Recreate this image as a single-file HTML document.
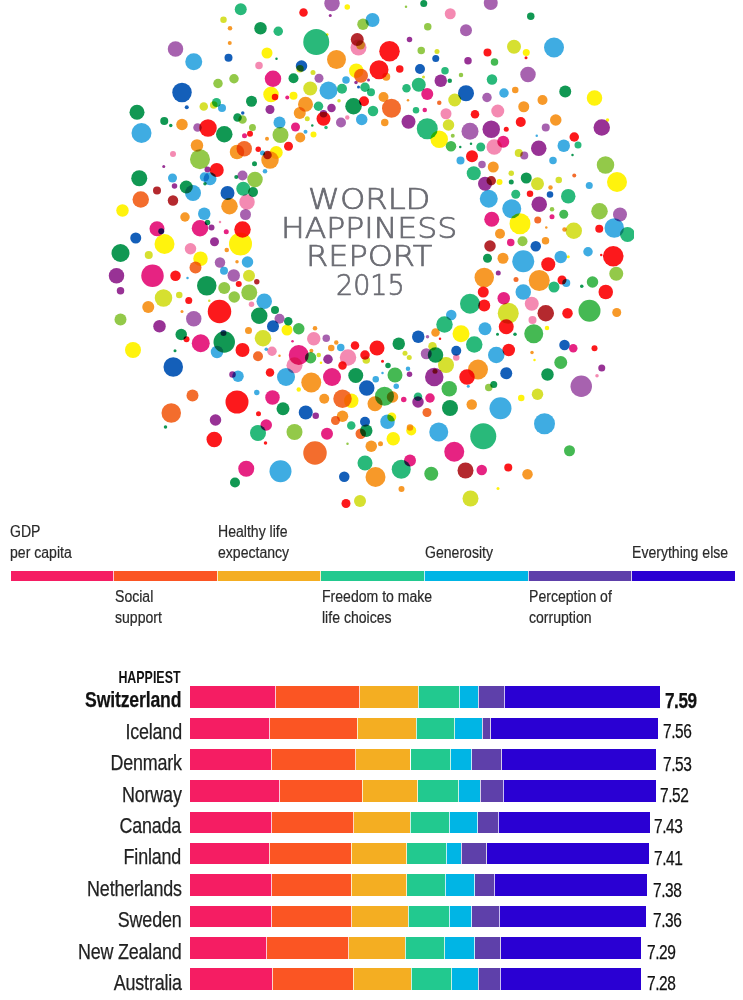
<!DOCTYPE html>
<html><head><meta charset="utf-8"><style>
html,body{margin:0;padding:0;background:#fff;}
body{width:743px;height:1000px;position:relative;overflow:hidden;font-family:"Liberation Sans",Arial,sans-serif;}
.sg{position:absolute;}
.sp{position:absolute;width:1px;background:rgba(255,255,255,0.75);}
.cn{-webkit-text-stroke:0.25px #222;position:absolute;right:561.5px;height:0;line-height:0;font-size:21.5px;color:#222;white-space:nowrap;transform-origin:100% 0;transform:scaleX(0.832);letter-spacing:-0.2px;}
.cn span{}
.cn.b{font-weight:bold;color:#111;transform:scaleX(0.82);}
.vl{-webkit-text-stroke:0.25px #111;position:absolute;height:0;line-height:0;font-size:20.5px;color:#111;white-space:nowrap;transform-origin:0 0;transform:scaleX(0.755);letter-spacing:-0.6px;}
.vl.b{font-weight:bold;font-size:21.5px;transform:scaleX(0.8);margin-left:-0.5px;}
.lg{-webkit-text-stroke:0.2px #2a2a2a;position:absolute;height:0;line-height:0;font-size:15.8px;color:#2a2a2a;white-space:nowrap;transform-origin:0 0;transform:scaleX(0.89);margin-left:-0.8px;}
.hp{position:absolute;right:562.5px;top:677.3px;height:0;line-height:0;font-size:16.5px;font-weight:bold;color:#111;transform-origin:100% 0;transform:scaleX(0.753);}
.title{position:absolute;font-family:"DejaVu Sans",sans-serif;font-weight:200;color:#6b6c73;font-size:27.5px;letter-spacing:0px;height:0;line-height:0;-webkit-text-stroke:0.7px #6b6c73;white-space:nowrap;transform-origin:0 0;}
svg.dots{position:absolute;left:0;top:0;} svg.dots circle{mix-blend-mode:multiply;}
</style></head><body>
<svg class="dots" width="743" height="520" viewBox="0 0 743 520">
<defs><clipPath id="c"><rect x="0" y="0" width="634" height="520"/></clipPath></defs>
<g clip-path="url(#c)" fill-opacity="0.95" style="isolation:isolate">
<circle cx="240.75" cy="9.25" r="6" fill="#1db573"/>
<circle cx="223.5" cy="19.75" r="3.25" fill="#d4de25"/>
<circle cx="230" cy="28.25" r="2.25" fill="#f7931e"/>
<circle cx="260.5" cy="28.25" r="6.25" fill="#04924a"/>
<circle cx="278.25" cy="31.25" r="4.75" fill="#1db573"/>
<circle cx="229.75" cy="43" r="2" fill="#f7931e"/>
<circle cx="175.5" cy="49" r="7.75" fill="#a25aab"/>
<circle cx="267" cy="53" r="5.5" fill="#fff200"/>
<circle cx="276.5" cy="58.75" r="1.25" fill="#04924a"/>
<circle cx="228.5" cy="57.75" r="4" fill="#0756b5"/>
<circle cx="193.75" cy="61.75" r="8.5" fill="#35a8e0"/>
<circle cx="259" cy="65.5" r="3.75" fill="#f384ae"/>
<circle cx="273" cy="78.75" r="8.25" fill="#e5177b"/>
<circle cx="234" cy="78.75" r="4.75" fill="#8dc63f"/>
<circle cx="218" cy="83.5" r="4.75" fill="#8dc63f"/>
<circle cx="182" cy="92.5" r="9.75" fill="#0756b5"/>
<circle cx="271" cy="94.5" r="7.75" fill="#fff200"/>
<circle cx="275" cy="97" r="3.25" fill="#fc0d10"/>
<circle cx="251.5" cy="101.25" r="5.5" fill="#04924a"/>
<circle cx="203.75" cy="106.5" r="4.25" fill="#d4de25"/>
<circle cx="213.75" cy="105" r="3.75" fill="#d4de25"/>
<circle cx="216.5" cy="102.5" r="4.5" fill="#1db573"/>
<circle cx="222" cy="108" r="4" fill="#35a8e0"/>
<circle cx="186.75" cy="107.25" r="2" fill="#0756b5"/>
<circle cx="270" cy="109.5" r="4.5" fill="#92278f"/>
<circle cx="137" cy="112.25" r="7.5" fill="#04924a"/>
<circle cx="242.75" cy="113" r="1.75" fill="#0756b5"/>
<circle cx="237.5" cy="117.5" r="4.25" fill="#04924a"/>
<circle cx="242.5" cy="119.5" r="4.25" fill="#8dc63f"/>
<circle cx="164.25" cy="121" r="4" fill="#04924a"/>
<circle cx="279.5" cy="122.5" r="6" fill="#35a8e0"/>
<circle cx="332" cy="3.5" r="7.75" fill="#a25aab"/>
<circle cx="347.25" cy="7" r="2.75" fill="#fff200"/>
<circle cx="303.5" cy="12.5" r="4.25" fill="#fc0d10"/>
<circle cx="330.25" cy="15.5" r="1.5" fill="#92278f"/>
<circle cx="406" cy="6.75" r="1.25" fill="#8dc63f"/>
<circle cx="423.75" cy="3.5" r="3.5" fill="#04924a"/>
<circle cx="450.25" cy="13.75" r="5.5" fill="#f384ae"/>
<circle cx="372.5" cy="20" r="7" fill="#35a8e0"/>
<circle cx="363" cy="24.25" r="5.75" fill="#8dc63f"/>
<circle cx="427.75" cy="26.75" r="3.75" fill="#8dc63f"/>
<circle cx="466" cy="30.25" r="6" fill="#a25aab"/>
<circle cx="316.25" cy="42" r="13" fill="#1db573"/>
<circle cx="327.25" cy="34.5" r="1.25" fill="#fff200"/>
<circle cx="358.5" cy="47.5" r="8" fill="#f384ae"/>
<circle cx="357.25" cy="39.5" r="6.5" fill="#b01e23"/>
<circle cx="360.5" cy="45" r="4.5" fill="#d4de25"/>
<circle cx="409.5" cy="39.5" r="2.75" fill="#92278f"/>
<circle cx="389.5" cy="51.25" r="10.25" fill="#fc0d10"/>
<circle cx="421.25" cy="50.5" r="3.75" fill="#8dc63f"/>
<circle cx="437" cy="51.5" r="2.5" fill="#d4de25"/>
<circle cx="435.75" cy="58.5" r="3.5" fill="#0756b5"/>
<circle cx="468" cy="60.75" r="3.75" fill="#92278f"/>
<circle cx="336.5" cy="59.5" r="9.5" fill="#f7931e"/>
<circle cx="301.5" cy="66" r="5.75" fill="#0756b5"/>
<circle cx="300" cy="68.75" r="3.75" fill="#d4de25"/>
<circle cx="379" cy="69.75" r="9.5" fill="#fc0d10"/>
<circle cx="399.75" cy="69" r="3.75" fill="#fc0d10"/>
<circle cx="420" cy="69" r="5" fill="#0756b5"/>
<circle cx="356.25" cy="70.75" r="7.25" fill="#fff200"/>
<circle cx="361" cy="75.75" r="7" fill="#f26522"/>
<circle cx="386.25" cy="76.75" r="4" fill="#f7931e"/>
<circle cx="445" cy="70.75" r="3.75" fill="#1db573"/>
<circle cx="461" cy="75" r="2.25" fill="#8dc63f"/>
<circle cx="293.5" cy="78.25" r="5" fill="#04924a"/>
<circle cx="313" cy="72.5" r="2.5" fill="#d4de25"/>
<circle cx="319" cy="78.25" r="4.5" fill="#a25aab"/>
<circle cx="346" cy="80" r="3.75" fill="#35a8e0"/>
<circle cx="368.5" cy="80" r="1.5" fill="#92278f"/>
<circle cx="358.5" cy="87" r="1.5" fill="#0756b5"/>
<circle cx="356" cy="82.5" r="1.75" fill="#92278f"/>
<circle cx="418.75" cy="84.75" r="7" fill="#1db573"/>
<circle cx="440.75" cy="80.75" r="6.25" fill="#92278f"/>
<circle cx="449.75" cy="80.75" r="2.25" fill="#04924a"/>
<circle cx="423.5" cy="77" r="1.5" fill="#d4de25"/>
<circle cx="310.25" cy="88.5" r="7" fill="#d4de25"/>
<circle cx="328.5" cy="90.5" r="9" fill="#35a8e0"/>
<circle cx="342" cy="88.75" r="5" fill="#1db573"/>
<circle cx="365" cy="87.25" r="4.75" fill="#1db573"/>
<circle cx="371" cy="92.25" r="4" fill="#1db573"/>
<circle cx="406.5" cy="88.25" r="4.25" fill="#1db573"/>
<circle cx="427.25" cy="94" r="6" fill="#e5177b"/>
<circle cx="466" cy="93.25" r="8" fill="#0756b5"/>
<circle cx="293.5" cy="95.75" r="4" fill="#fff200"/>
<circle cx="287.25" cy="97.5" r="2" fill="#e5177b"/>
<circle cx="305.5" cy="104.25" r="7.5" fill="#f7931e"/>
<circle cx="318.5" cy="106.25" r="4.75" fill="#1db573"/>
<circle cx="331.5" cy="108" r="4.25" fill="#92278f"/>
<circle cx="339" cy="100.75" r="1.75" fill="#d4de25"/>
<circle cx="353.5" cy="106.25" r="8.25" fill="#04924a"/>
<circle cx="364" cy="101.25" r="5" fill="#fc0d10"/>
<circle cx="373" cy="111" r="5.25" fill="#1db573"/>
<circle cx="383.5" cy="97" r="5" fill="#f7931e"/>
<circle cx="391.5" cy="108.25" r="9.5" fill="#f26522"/>
<circle cx="408" cy="100.25" r="1.25" fill="#f7931e"/>
<circle cx="416" cy="110.25" r="3.25" fill="#1db573"/>
<circle cx="424.75" cy="110" r="2.25" fill="#e5177b"/>
<circle cx="439.25" cy="102.75" r="2.25" fill="#f26522"/>
<circle cx="454.75" cy="100" r="6.5" fill="#d4de25"/>
<circle cx="446" cy="113.75" r="5.5" fill="#f384ae"/>
<circle cx="299.75" cy="113" r="6" fill="#f7931e"/>
<circle cx="307.25" cy="118.75" r="2.5" fill="#d4de25"/>
<circle cx="323.5" cy="113.75" r="3.75" fill="#92278f"/>
<circle cx="323.5" cy="118.75" r="7" fill="#fc0d10"/>
<circle cx="347.25" cy="117.5" r="2.25" fill="#f384ae"/>
<circle cx="361.75" cy="119.5" r="5.75" fill="#35a8e0"/>
<circle cx="341" cy="122.5" r="5" fill="#a25aab"/>
<circle cx="384.75" cy="122.5" r="3.75" fill="#f7931e"/>
<circle cx="408.5" cy="121.75" r="7" fill="#92278f"/>
<circle cx="427.25" cy="128.75" r="10.5" fill="#1db573"/>
<circle cx="448.5" cy="125" r="5.75" fill="#d4de25"/>
<circle cx="490.75" cy="3" r="7" fill="#a25aab"/>
<circle cx="530.75" cy="16.25" r="3.75" fill="#04924a"/>
<circle cx="514" cy="46.75" r="7" fill="#d4de25"/>
<circle cx="526.25" cy="52.5" r="3.5" fill="#fff200"/>
<circle cx="526" cy="57.75" r="1.5" fill="#fc0d10"/>
<circle cx="554" cy="47.5" r="10" fill="#35a8e0"/>
<circle cx="487.5" cy="52.5" r="4" fill="#fc0d10"/>
<circle cx="494.5" cy="62" r="3.75" fill="#3bb54a"/>
<circle cx="528" cy="74.5" r="7.75" fill="#a25aab"/>
<circle cx="492" cy="79.5" r="5.25" fill="#1db573"/>
<circle cx="504" cy="93" r="4.75" fill="#35a8e0"/>
<circle cx="515.25" cy="90" r="3.25" fill="#f7931e"/>
<circle cx="565.25" cy="91.5" r="6" fill="#04924a"/>
<circle cx="594.5" cy="98" r="7.75" fill="#fff200"/>
<circle cx="487" cy="97.5" r="4.75" fill="#a25aab"/>
<circle cx="542.5" cy="100" r="5" fill="#f7931e"/>
<circle cx="523.75" cy="106.75" r="5.5" fill="#f7931e"/>
<circle cx="497.75" cy="111" r="6.5" fill="#f384ae"/>
<circle cx="475" cy="114.25" r="4.25" fill="#fc0d10"/>
<circle cx="520.75" cy="122" r="5" fill="#fc0d10"/>
<circle cx="555.75" cy="120" r="5.75" fill="#f7931e"/>
<circle cx="491.25" cy="129.25" r="8.75" fill="#92278f"/>
<circle cx="601.75" cy="127.5" r="8.25" fill="#92278f"/>
<circle cx="607.5" cy="120" r="1.75" fill="#fff200"/>
<circle cx="141.5" cy="133" r="10" fill="#35a8e0"/>
<circle cx="170.75" cy="125.5" r="1.75" fill="#04924a"/>
<circle cx="182" cy="124.5" r="5.75" fill="#f7931e"/>
<circle cx="197.5" cy="127.5" r="4.25" fill="#a25aab"/>
<circle cx="208" cy="128" r="8.75" fill="#fc0d10"/>
<circle cx="224.25" cy="134.25" r="8.25" fill="#04924a"/>
<circle cx="252.5" cy="127.5" r="3.5" fill="#8dc63f"/>
<circle cx="244.5" cy="135.75" r="2.5" fill="#e5177b"/>
<circle cx="250" cy="133.75" r="3" fill="#fc0d10"/>
<circle cx="280.5" cy="135" r="8" fill="#8dc63f"/>
<circle cx="267" cy="138.75" r="2" fill="#f7931e"/>
<circle cx="197" cy="145.5" r="6.25" fill="#f7931e"/>
<circle cx="173" cy="154" r="3" fill="#f384ae"/>
<circle cx="200" cy="159.25" r="10" fill="#8dc63f"/>
<circle cx="237" cy="152" r="7.25" fill="#f7931e"/>
<circle cx="244.25" cy="148.75" r="7.75" fill="#f26522"/>
<circle cx="258.25" cy="149.25" r="2.75" fill="#fc0d10"/>
<circle cx="276.25" cy="152.5" r="6.5" fill="#fff200"/>
<circle cx="270" cy="160" r="8.75" fill="#f7931e"/>
<circle cx="267.5" cy="155" r="4.25" fill="#b01e23"/>
<circle cx="262.5" cy="153" r="2.5" fill="#35a8e0"/>
<circle cx="288.5" cy="146.25" r="4.5" fill="#fc0d10"/>
<circle cx="163.75" cy="166.5" r="1.5" fill="#92278f"/>
<circle cx="254.5" cy="163.75" r="2.5" fill="#04924a"/>
<circle cx="216.75" cy="170" r="7" fill="#fc0d10"/>
<circle cx="207.5" cy="169.5" r="3" fill="#92278f"/>
<circle cx="265" cy="171.25" r="2.25" fill="#35a8e0"/>
<circle cx="139.25" cy="178.25" r="8" fill="#04924a"/>
<circle cx="172.5" cy="178" r="4.5" fill="#35a8e0"/>
<circle cx="210" cy="178.75" r="6.5" fill="#35a8e0"/>
<circle cx="204.5" cy="177" r="4.75" fill="#35a8e0"/>
<circle cx="242.5" cy="175.5" r="5" fill="#a25aab"/>
<circle cx="236.25" cy="177" r="2" fill="#04924a"/>
<circle cx="255" cy="179.5" r="7.75" fill="#8dc63f"/>
<circle cx="205" cy="183.75" r="1.75" fill="#04924a"/>
<circle cx="157" cy="190.5" r="4" fill="#b01e23"/>
<circle cx="174.5" cy="186" r="2.75" fill="#92278f"/>
<circle cx="186.25" cy="187" r="6.5" fill="#04924a"/>
<circle cx="193" cy="193" r="8" fill="#35a8e0"/>
<circle cx="227.5" cy="193" r="7" fill="#0756b5"/>
<circle cx="243.25" cy="188.75" r="7" fill="#1db573"/>
<circle cx="253" cy="192" r="5" fill="#04924a"/>
<circle cx="140.75" cy="199.5" r="8.25" fill="#f26522"/>
<circle cx="173" cy="200.5" r="5.25" fill="#b01e23"/>
<circle cx="247" cy="202" r="7.75" fill="#f384ae"/>
<circle cx="229.5" cy="206.25" r="8.25" fill="#f7931e"/>
<circle cx="122.5" cy="210.5" r="6.25" fill="#fff200"/>
<circle cx="204.25" cy="213.75" r="6.25" fill="#35a8e0"/>
<circle cx="245.5" cy="214.5" r="5.5" fill="#a25aab"/>
<circle cx="185" cy="217" r="4.75" fill="#f7931e"/>
<circle cx="157" cy="228.75" r="7.5" fill="#e5177b"/>
<circle cx="161.25" cy="231.25" r="3" fill="#1b3f94"/>
<circle cx="200" cy="228.25" r="8.25" fill="#e5177b"/>
<circle cx="207.5" cy="222.5" r="2.75" fill="#04924a"/>
<circle cx="211.5" cy="227.5" r="3" fill="#92278f"/>
<circle cx="220" cy="222" r="1.25" fill="#f384ae"/>
<circle cx="226.25" cy="231.75" r="2.5" fill="#e5177b"/>
<circle cx="242.5" cy="229.5" r="8.25" fill="#fc0d10"/>
<circle cx="135.75" cy="238" r="5.5" fill="#0756b5"/>
<circle cx="164.5" cy="244" r="10" fill="#fff200"/>
<circle cx="240.5" cy="244" r="11.5" fill="#fff200"/>
<circle cx="214.5" cy="241.75" r="4.5" fill="#92278f"/>
<circle cx="295.5" cy="127" r="4.5" fill="#e5177b"/>
<circle cx="300.25" cy="137.5" r="5" fill="#f7931e"/>
<circle cx="305.5" cy="131.75" r="2" fill="#35a8e0"/>
<circle cx="313.5" cy="134.5" r="3" fill="#fff200"/>
<circle cx="312.25" cy="125.5" r="1.25" fill="#04924a"/>
<circle cx="326" cy="127.5" r="1.75" fill="#1db573"/>
<circle cx="439.25" cy="139.25" r="8.75" fill="#fff200"/>
<circle cx="451" cy="146.25" r="5.25" fill="#3bb54a"/>
<circle cx="452.75" cy="135.75" r="2" fill="#8dc63f"/>
<circle cx="470" cy="131.25" r="8.5" fill="#a25aab"/>
<circle cx="460.25" cy="147" r="1.25" fill="#04924a"/>
<circle cx="460.5" cy="160.5" r="4" fill="#35a8e0"/>
<circle cx="472" cy="156.25" r="6" fill="#fc0d10"/>
<circle cx="473.75" cy="173.25" r="7" fill="#1db573"/>
<circle cx="471" cy="143.75" r="1.25" fill="#04924a"/>
<circle cx="506.25" cy="129.25" r="2.5" fill="#fc0d10"/>
<circle cx="545.75" cy="127.5" r="4" fill="#a25aab"/>
<circle cx="503.25" cy="141.75" r="6" fill="#e5177b"/>
<circle cx="494.25" cy="147" r="7.75" fill="#f384ae"/>
<circle cx="480.75" cy="147" r="4.5" fill="#1db573"/>
<circle cx="536.75" cy="135.75" r="1.25" fill="#35a8e0"/>
<circle cx="538.75" cy="148.25" r="7.75" fill="#92278f"/>
<circle cx="563.75" cy="145.75" r="6.25" fill="#35a8e0"/>
<circle cx="574.25" cy="137" r="4.75" fill="#fc0d10"/>
<circle cx="578" cy="145" r="3.5" fill="#1db573"/>
<circle cx="572.5" cy="155" r="1.25" fill="#04924a"/>
<circle cx="518.75" cy="153" r="4" fill="#d4de25"/>
<circle cx="524.25" cy="155.5" r="4" fill="#a25aab"/>
<circle cx="553" cy="160.5" r="3.75" fill="#35a8e0"/>
<circle cx="605.5" cy="165" r="8.75" fill="#8dc63f"/>
<circle cx="482" cy="164.5" r="3.75" fill="#a25aab"/>
<circle cx="493.25" cy="167" r="5.5" fill="#f7931e"/>
<circle cx="511.25" cy="173.25" r="2.75" fill="#d4de25"/>
<circle cx="526.25" cy="178" r="5.5" fill="#04924a"/>
<circle cx="537.5" cy="183.75" r="6.5" fill="#d4de25"/>
<circle cx="558.75" cy="180" r="3.25" fill="#d4de25"/>
<circle cx="574.25" cy="175.5" r="2" fill="#f26522"/>
<circle cx="485" cy="183.75" r="7" fill="#92278f"/>
<circle cx="491.25" cy="180.75" r="4.75" fill="#b01e23"/>
<circle cx="499.5" cy="182" r="3" fill="#fff200"/>
<circle cx="511.25" cy="182" r="2.5" fill="#04924a"/>
<circle cx="617" cy="182" r="10" fill="#fff200"/>
<circle cx="589.25" cy="185.5" r="3.5" fill="#35a8e0"/>
<circle cx="550.5" cy="187.5" r="2.25" fill="#f7931e"/>
<circle cx="488.75" cy="198.75" r="9" fill="#35a8e0"/>
<circle cx="515.75" cy="194.25" r="4.5" fill="#1db573"/>
<circle cx="530" cy="193.75" r="3.25" fill="#fc0d10"/>
<circle cx="550" cy="194.5" r="3.25" fill="#0756b5"/>
<circle cx="568.25" cy="196.25" r="7.25" fill="#1db573"/>
<circle cx="539.25" cy="204.25" r="7.75" fill="#92278f"/>
<circle cx="511.75" cy="208.75" r="9.5" fill="#35a8e0"/>
<circle cx="552" cy="209.25" r="2.25" fill="#8dc63f"/>
<circle cx="599.5" cy="211.25" r="8.25" fill="#8dc63f"/>
<circle cx="620" cy="214.5" r="7" fill="#a25aab"/>
<circle cx="491.75" cy="219.25" r="7.5" fill="#e5177b"/>
<circle cx="563.75" cy="214.25" r="4.5" fill="#3bb54a"/>
<circle cx="552" cy="216.75" r="2.5" fill="#e5177b"/>
<circle cx="520" cy="223.75" r="10.5" fill="#fff200"/>
<circle cx="537.75" cy="220" r="3.5" fill="#f26522"/>
<circle cx="546.25" cy="227.5" r="1.25" fill="#f7931e"/>
<circle cx="573.75" cy="230.75" r="8.25" fill="#d4de25"/>
<circle cx="564.5" cy="229.5" r="2.25" fill="#f7931e"/>
<circle cx="599.25" cy="228.75" r="4" fill="#fc0d10"/>
<circle cx="614.25" cy="228" r="9.75" fill="#35a8e0"/>
<circle cx="627.5" cy="234.5" r="7.5" fill="#1db573"/>
<circle cx="500" cy="233.75" r="5" fill="#f7931e"/>
<circle cx="490" cy="246" r="5.75" fill="#b01e23"/>
<circle cx="510.75" cy="242.5" r="3.75" fill="#e5177b"/>
<circle cx="522.5" cy="241.25" r="5" fill="#8dc63f"/>
<circle cx="535.75" cy="246.25" r="5.25" fill="#0756b5"/>
<circle cx="545.5" cy="240.75" r="3.75" fill="#f7931e"/>
<circle cx="120.5" cy="253" r="9" fill="#04924a"/>
<circle cx="148.75" cy="255" r="4" fill="#d4de25"/>
<circle cx="190.5" cy="248.75" r="5.75" fill="#f384ae"/>
<circle cx="200.5" cy="258.75" r="7.25" fill="#fff200"/>
<circle cx="195.5" cy="267.5" r="6" fill="#f26522"/>
<circle cx="226.75" cy="250" r="2.25" fill="#f7931e"/>
<circle cx="220" cy="262.5" r="5.25" fill="#a25aab"/>
<circle cx="237" cy="261.75" r="1.75" fill="#f7931e"/>
<circle cx="247.5" cy="262" r="5.75" fill="#35a8e0"/>
<circle cx="224" cy="270.75" r="4" fill="#35a8e0"/>
<circle cx="233.75" cy="275.5" r="6.25" fill="#a25aab"/>
<circle cx="249" cy="275.75" r="6" fill="#d4de25"/>
<circle cx="256.75" cy="281.75" r="2.75" fill="#b01e23"/>
<circle cx="116.5" cy="275.75" r="7.75" fill="#92278f"/>
<circle cx="152.5" cy="275.75" r="11.25" fill="#e5177b"/>
<circle cx="175.5" cy="275.75" r="5.25" fill="#fc0d10"/>
<circle cx="187.5" cy="278" r="1.25" fill="#35a8e0"/>
<circle cx="206.75" cy="285.75" r="9.75" fill="#04924a"/>
<circle cx="224.25" cy="288" r="6" fill="#8dc63f"/>
<circle cx="238.75" cy="284" r="3" fill="#fc0d10"/>
<circle cx="249.25" cy="292.5" r="8" fill="#8dc63f"/>
<circle cx="120.5" cy="290.75" r="3.75" fill="#92278f"/>
<circle cx="163.5" cy="298" r="8.75" fill="#d4de25"/>
<circle cx="179.25" cy="295" r="3.25" fill="#d4de25"/>
<circle cx="188.75" cy="300.5" r="3.5" fill="#fc0d10"/>
<circle cx="209.25" cy="300.75" r="1.25" fill="#d4de25"/>
<circle cx="234.25" cy="297" r="5.75" fill="#8dc63f"/>
<circle cx="264.25" cy="301.25" r="7.75" fill="#35a8e0"/>
<circle cx="148.25" cy="307" r="6" fill="#f7931e"/>
<circle cx="219.5" cy="311.5" r="11.75" fill="#fc0d10"/>
<circle cx="251.5" cy="304.25" r="2.75" fill="#f384ae"/>
<circle cx="275" cy="310" r="4" fill="#04924a"/>
<circle cx="182" cy="311.5" r="1.5" fill="#f7931e"/>
<circle cx="259.25" cy="315.75" r="8.25" fill="#04924a"/>
<circle cx="193.75" cy="318.75" r="7.75" fill="#a25aab"/>
<circle cx="120.5" cy="319.5" r="6" fill="#8dc63f"/>
<circle cx="279.5" cy="318.75" r="5" fill="#a25aab"/>
<circle cx="273" cy="326.25" r="6" fill="#0756b5"/>
<circle cx="159.5" cy="326.25" r="6.25" fill="#92278f"/>
<circle cx="287" cy="330" r="5.5" fill="#fff200"/>
<circle cx="248.5" cy="330.5" r="3.5" fill="#f7931e"/>
<circle cx="263" cy="338.25" r="8.25" fill="#d4de25"/>
<circle cx="181.25" cy="334.5" r="5.75" fill="#04924a"/>
<circle cx="224.25" cy="342" r="10.75" fill="#04924a"/>
<circle cx="223.5" cy="333" r="3" fill="#1b3f94"/>
<circle cx="200.75" cy="343.25" r="9" fill="#e5177b"/>
<circle cx="186.5" cy="339.25" r="3" fill="#fc0d10"/>
<circle cx="133" cy="350" r="8" fill="#fff200"/>
<circle cx="217" cy="352" r="6.25" fill="#35a8e0"/>
<circle cx="242.5" cy="350" r="7" fill="#fc0d10"/>
<circle cx="266.25" cy="349.25" r="1.75" fill="#35a8e0"/>
<circle cx="272" cy="351.25" r="4.75" fill="#f384ae"/>
<circle cx="279.5" cy="355.75" r="1.25" fill="#f7931e"/>
<circle cx="258" cy="356.25" r="5" fill="#f26522"/>
<circle cx="175" cy="350.75" r="1.5" fill="#04924a"/>
<circle cx="173.25" cy="367" r="9.75" fill="#0756b5"/>
<circle cx="288.25" cy="321.25" r="4.25" fill="#04924a"/>
<circle cx="298.75" cy="328.75" r="5.75" fill="#3bb54a"/>
<circle cx="315" cy="328.25" r="2.25" fill="#f7931e"/>
<circle cx="313.75" cy="338.75" r="6.75" fill="#f384ae"/>
<circle cx="326.25" cy="338.25" r="3.75" fill="#a25aab"/>
<circle cx="292.5" cy="341.25" r="1.25" fill="#e5177b"/>
<circle cx="336.25" cy="342.5" r="2.25" fill="#f7931e"/>
<circle cx="331.25" cy="348" r="3.25" fill="#f7931e"/>
<circle cx="340.75" cy="347.5" r="3.75" fill="#35a8e0"/>
<circle cx="355" cy="345.5" r="4.25" fill="#fc0d10"/>
<circle cx="377" cy="348" r="7.5" fill="#fc0d10"/>
<circle cx="398.75" cy="343.75" r="6.25" fill="#04924a"/>
<circle cx="418.25" cy="336.75" r="6.25" fill="#0756b5"/>
<circle cx="435.5" cy="332.5" r="4.25" fill="#f7931e"/>
<circle cx="427.5" cy="336.75" r="1.75" fill="#a25aab"/>
<circle cx="440" cy="338.75" r="1.25" fill="#fc0d10"/>
<circle cx="444.5" cy="324.5" r="8.25" fill="#1db573"/>
<circle cx="451.25" cy="315" r="5.25" fill="#35a8e0"/>
<circle cx="470" cy="303.75" r="10" fill="#1db573"/>
<circle cx="461" cy="333.75" r="8.5" fill="#fff200"/>
<circle cx="456.25" cy="350.75" r="5" fill="#0756b5"/>
<circle cx="298.75" cy="355" r="10" fill="#e5177b"/>
<circle cx="318.75" cy="355" r="2.25" fill="#d4de25"/>
<circle cx="310.6" cy="357.8" r="5.7" fill="#3bb54a"/>
<circle cx="294.5" cy="365.3" r="8" fill="#f384ae"/>
<circle cx="311.4" cy="350.8" r="2" fill="#f7931e"/>
<circle cx="321" cy="362.8" r="1.3" fill="#fff200"/>
<circle cx="328" cy="359.25" r="4.75" fill="#92278f"/>
<circle cx="348" cy="357.5" r="8.25" fill="#f384ae"/>
<circle cx="365" cy="355" r="4.75" fill="#fc0d10"/>
<circle cx="366.25" cy="360" r="3.75" fill="#d4de25"/>
<circle cx="405" cy="353.25" r="2.5" fill="#d4de25"/>
<circle cx="409.25" cy="357.5" r="2.5" fill="#d4de25"/>
<circle cx="426.25" cy="353.75" r="5.5" fill="#a25aab"/>
<circle cx="432.5" cy="346.25" r="4.25" fill="#d4de25"/>
<circle cx="435.5" cy="355" r="7.75" fill="#04924a"/>
<circle cx="446" cy="365" r="8" fill="#d4de25"/>
<circle cx="456.25" cy="357.5" r="3.25" fill="#f384ae"/>
<circle cx="382.5" cy="361.25" r="1.5" fill="#fc0d10"/>
<circle cx="588" cy="251.75" r="4.75" fill="#35a8e0"/>
<circle cx="613.25" cy="256.25" r="10.25" fill="#fc0d10"/>
<circle cx="601.25" cy="255" r="1.25" fill="#fc0d10"/>
<circle cx="487.5" cy="258.25" r="4.5" fill="#04924a"/>
<circle cx="503" cy="258.25" r="5.5" fill="#f7931e"/>
<circle cx="523.25" cy="261.25" r="11" fill="#35a8e0"/>
<circle cx="548.25" cy="264.25" r="7" fill="#fc0d10"/>
<circle cx="560.75" cy="257" r="6.25" fill="#35a8e0"/>
<circle cx="568.25" cy="256.75" r="1.5" fill="#fff200"/>
<circle cx="616.25" cy="273.75" r="7" fill="#8dc63f"/>
<circle cx="484.25" cy="277.5" r="9.75" fill="#f7931e"/>
<circle cx="498.25" cy="273" r="2.5" fill="#92278f"/>
<circle cx="516" cy="279.5" r="2.5" fill="#f26522"/>
<circle cx="539.25" cy="280.5" r="10.5" fill="#f7931e"/>
<circle cx="562" cy="280" r="4.5" fill="#fc0d10"/>
<circle cx="566.25" cy="283" r="4" fill="#35a8e0"/>
<circle cx="554" cy="287" r="5.5" fill="#1db573"/>
<circle cx="592.5" cy="282" r="5.75" fill="#3bb54a"/>
<circle cx="581.75" cy="286.25" r="1.75" fill="#04924a"/>
<circle cx="605.75" cy="292" r="7.25" fill="#fc0d10"/>
<circle cx="483.25" cy="292" r="5.5" fill="#fc0d10"/>
<circle cx="523.25" cy="292" r="7.75" fill="#35a8e0"/>
<circle cx="503.75" cy="298.25" r="6.25" fill="#e5177b"/>
<circle cx="484.25" cy="305.5" r="6" fill="#fc0d10"/>
<circle cx="531.75" cy="303.75" r="7" fill="#f384ae"/>
<circle cx="545.75" cy="313.25" r="8.25" fill="#b01e23"/>
<circle cx="567.5" cy="313.25" r="5.25" fill="#fc0d10"/>
<circle cx="589.5" cy="310.75" r="11" fill="#3bb54a"/>
<circle cx="616.75" cy="312.5" r="4.5" fill="#f7931e"/>
<circle cx="508.25" cy="313.25" r="10.5" fill="#d4de25"/>
<circle cx="532.5" cy="320" r="4" fill="#f384ae"/>
<circle cx="506.25" cy="326.75" r="7.5" fill="#fc0d10"/>
<circle cx="485" cy="328.75" r="6.5" fill="#35a8e0"/>
<circle cx="497.5" cy="334.25" r="1.5" fill="#04924a"/>
<circle cx="515" cy="334.25" r="1.75" fill="#04924a"/>
<circle cx="533.75" cy="333.75" r="9.5" fill="#3bb54a"/>
<circle cx="547" cy="328" r="2.25" fill="#fff200"/>
<circle cx="474.25" cy="344.5" r="8.25" fill="#1db573"/>
<circle cx="564.5" cy="345" r="5.25" fill="#0756b5"/>
<circle cx="573.25" cy="348.25" r="4.25" fill="#e5177b"/>
<circle cx="594.5" cy="348.25" r="3" fill="#fc0d10"/>
<circle cx="496.25" cy="355" r="8.25" fill="#35a8e0"/>
<circle cx="508.75" cy="350" r="6.25" fill="#fc0d10"/>
<circle cx="532" cy="352.5" r="1.75" fill="#f7931e"/>
<circle cx="534.5" cy="360" r="1.25" fill="#fff200"/>
<circle cx="560.75" cy="362.5" r="6.5" fill="#3bb54a"/>
<circle cx="478" cy="369.5" r="10" fill="#f7931e"/>
<circle cx="232.5" cy="374.5" r="3.25" fill="#92278f"/>
<circle cx="238" cy="376.25" r="5.75" fill="#35a8e0"/>
<circle cx="270" cy="372.5" r="4.25" fill="#fc0d10"/>
<circle cx="286" cy="377" r="9" fill="#35a8e0"/>
<circle cx="192.5" cy="395.5" r="6" fill="#f26522"/>
<circle cx="237" cy="402" r="11.5" fill="#fc0d10"/>
<circle cx="256.75" cy="392.5" r="2.75" fill="#35a8e0"/>
<circle cx="272.5" cy="397.5" r="7.25" fill="#e5177b"/>
<circle cx="283" cy="408.75" r="6.5" fill="#04924a"/>
<circle cx="171.25" cy="413" r="9.75" fill="#f26522"/>
<circle cx="215.5" cy="420" r="5.75" fill="#92278f"/>
<circle cx="258.5" cy="413.75" r="2.5" fill="#fc0d10"/>
<circle cx="266.25" cy="425" r="5.75" fill="#e5177b"/>
<circle cx="258" cy="433" r="8" fill="#1db573"/>
<circle cx="165.5" cy="427" r="1.75" fill="#04924a"/>
<circle cx="214.25" cy="439.5" r="7.75" fill="#fc0d10"/>
<circle cx="265.5" cy="443" r="1.75" fill="#fc0d10"/>
<circle cx="246.25" cy="468.75" r="8" fill="#e5177b"/>
<circle cx="280.5" cy="471.25" r="11" fill="#35a8e0"/>
<circle cx="235" cy="482.5" r="5" fill="#04924a"/>
<circle cx="311.25" cy="382.5" r="10" fill="#f7931e"/>
<circle cx="298.75" cy="389.5" r="2.25" fill="#fff200"/>
<circle cx="332" cy="377" r="9" fill="#e5177b"/>
<circle cx="342.5" cy="365.5" r="4.25" fill="#fc0d10"/>
<circle cx="355.75" cy="375.5" r="7.5" fill="#04924a"/>
<circle cx="375.75" cy="379.25" r="3.25" fill="#35a8e0"/>
<circle cx="366.75" cy="388" r="7.75" fill="#0756b5"/>
<circle cx="395" cy="375" r="7.5" fill="#3bb54a"/>
<circle cx="388" cy="365.5" r="2.75" fill="#04924a"/>
<circle cx="382.5" cy="373" r="1.25" fill="#35a8e0"/>
<circle cx="396.25" cy="386.25" r="2.75" fill="#35a8e0"/>
<circle cx="408" cy="368.75" r="2.25" fill="#35a8e0"/>
<circle cx="409.5" cy="374.25" r="2.75" fill="#92278f"/>
<circle cx="434.25" cy="377" r="9.25" fill="#92278f"/>
<circle cx="467" cy="377" r="7.75" fill="#fc0d10"/>
<circle cx="449.25" cy="388.75" r="7.75" fill="#3bb54a"/>
<circle cx="435" cy="371.25" r="2.5" fill="#b01e23"/>
<circle cx="324.25" cy="398.75" r="5" fill="#f7931e"/>
<circle cx="342.5" cy="398.75" r="9.25" fill="#f26522"/>
<circle cx="351.25" cy="400.75" r="7.25" fill="#fff200"/>
<circle cx="375" cy="403.75" r="7.5" fill="#f7931e"/>
<circle cx="384.5" cy="396.25" r="9.5" fill="#3bb54a"/>
<circle cx="392.5" cy="397" r="5.75" fill="#f7931e"/>
<circle cx="403.75" cy="399.5" r="2.75" fill="#e5177b"/>
<circle cx="418" cy="402" r="5.75" fill="#92278f"/>
<circle cx="418" cy="396.75" r="4.25" fill="#1db573"/>
<circle cx="430" cy="398" r="4.75" fill="#e5177b"/>
<circle cx="305.75" cy="412.5" r="7" fill="#0756b5"/>
<circle cx="315.75" cy="415.75" r="3.25" fill="#92278f"/>
<circle cx="450" cy="408" r="8" fill="#04924a"/>
<circle cx="427" cy="412.5" r="4.5" fill="#f26522"/>
<circle cx="342.5" cy="416.25" r="5.75" fill="#f7931e"/>
<circle cx="335.5" cy="420.5" r="4.5" fill="#f26522"/>
<circle cx="351.25" cy="425.5" r="4.25" fill="#1db573"/>
<circle cx="365" cy="421.75" r="5" fill="#0756b5"/>
<circle cx="387.5" cy="421.75" r="7.25" fill="#35a8e0"/>
<circle cx="391.75" cy="417" r="4.5" fill="#fff200"/>
<circle cx="294.5" cy="432" r="8" fill="#8dc63f"/>
<circle cx="327" cy="433.75" r="6" fill="#e5177b"/>
<circle cx="360.75" cy="433.75" r="5.25" fill="#f26522"/>
<circle cx="366.25" cy="430.75" r="6.25" fill="#04924a"/>
<circle cx="411.25" cy="430.5" r="5" fill="#fff200"/>
<circle cx="410" cy="427.5" r="3.25" fill="#f7931e"/>
<circle cx="438.75" cy="432" r="9.5" fill="#35a8e0"/>
<circle cx="393.25" cy="438.75" r="6.75" fill="#fff200"/>
<circle cx="371.25" cy="446.25" r="5.75" fill="#f7931e"/>
<circle cx="380.5" cy="443.75" r="2.5" fill="#f7931e"/>
<circle cx="347.5" cy="443.75" r="1.25" fill="#8dc63f"/>
<circle cx="315" cy="453" r="11.75" fill="#f26522"/>
<circle cx="454.25" cy="451.75" r="10" fill="#e5177b"/>
<circle cx="365" cy="463" r="7.5" fill="#1db573"/>
<circle cx="410" cy="460.5" r="6" fill="#e5177b"/>
<circle cx="401.25" cy="469.25" r="9.5" fill="#1db573"/>
<circle cx="431.25" cy="473.75" r="7" fill="#3bb54a"/>
<circle cx="465.5" cy="470.5" r="8" fill="#b01e23"/>
<circle cx="344.25" cy="476.75" r="5.25" fill="#0756b5"/>
<circle cx="375.5" cy="477" r="10" fill="#f7931e"/>
<circle cx="468.25" cy="386.25" r="1.5" fill="#35a8e0"/>
<circle cx="506.25" cy="373.25" r="6" fill="#0756b5"/>
<circle cx="547.5" cy="374.5" r="6.25" fill="#04924a"/>
<circle cx="601.75" cy="368" r="3.5" fill="#92278f"/>
<circle cx="597" cy="375.75" r="1.75" fill="#f384ae"/>
<circle cx="581.25" cy="386.25" r="10.75" fill="#a25aab"/>
<circle cx="488.75" cy="387.5" r="3.75" fill="#8dc63f"/>
<circle cx="493.75" cy="384.5" r="3.5" fill="#04924a"/>
<circle cx="521.25" cy="398" r="3.25" fill="#fff200"/>
<circle cx="537.5" cy="394.25" r="5.75" fill="#d4de25"/>
<circle cx="471.75" cy="404.5" r="5.25" fill="#f7931e"/>
<circle cx="500.5" cy="408.25" r="11" fill="#35a8e0"/>
<circle cx="544.5" cy="423.75" r="10.5" fill="#35a8e0"/>
<circle cx="483.25" cy="436.25" r="13" fill="#1db573"/>
<circle cx="569.5" cy="450.75" r="5.5" fill="#3bb54a"/>
<circle cx="481.75" cy="470" r="5.25" fill="#e5177b"/>
<circle cx="508.25" cy="467.5" r="4" fill="#fc0d10"/>
<circle cx="527.5" cy="474.25" r="5.25" fill="#f7931e"/>
<circle cx="401.5" cy="489" r="3" fill="#f7931e"/>
<circle cx="346" cy="503.5" r="4.5" fill="#fc0d10"/>
<circle cx="360" cy="501" r="6" fill="#d4de25"/>
<circle cx="470.5" cy="498.5" r="8" fill="#d4de25"/>
<circle cx="498" cy="488.5" r="1.5" fill="#fff200"/>
</g></svg>
<div class="title" style="left:308.06px;top:199.09px;transform:scaleX(1.1723)">WORLD</div>
<div class="title" style="left:281.36px;top:227.99px;transform:scaleX(1.1470)">HAPPINESS</div>
<div class="title" style="left:305.51px;top:256.19px;transform:scaleX(1.1619)">REPORT</div>
<div class="title" style="left:336.32px;top:285.29px;transform:scaleX(0.9788)">2015</div>
<div class="sg" style="left:10.75px;top:570.5px;width:103.15px;height:10.5px;background:#f51d63"></div>
<div class="sg" style="left:113.9px;top:570.5px;width:103.35px;height:10.5px;background:#fb5523"></div>
<div class="sg" style="left:217.25px;top:570.5px;width:103.25px;height:10.5px;background:#f4ae22"></div>
<div class="sg" style="left:320.5px;top:570.5px;width:103.75px;height:10.5px;background:#22c98f"></div>
<div class="sg" style="left:424.25px;top:570.5px;width:104.0px;height:10.5px;background:#00b5e5"></div>
<div class="sg" style="left:528.25px;top:570.5px;width:103.25px;height:10.5px;background:#5e40aa"></div>
<div class="sg" style="left:631.5px;top:570.5px;width:103.5px;height:10.5px;background:#2a00d3"></div>
<div class="sp" style="left:113.4px;top:570.5px;height:10.5px"></div>
<div class="sp" style="left:216.75px;top:570.5px;height:10.5px"></div>
<div class="sp" style="left:320.0px;top:570.5px;height:10.5px"></div>
<div class="sp" style="left:423.75px;top:570.5px;height:10.5px"></div>
<div class="sp" style="left:527.75px;top:570.5px;height:10.5px"></div>
<div class="sp" style="left:631.0px;top:570.5px;height:10.5px"></div>
<div class="lg" style="left:10.75px;top:532.03px">GDP</div>
<div class="lg" style="left:10.75px;top:553.03px">per capita</div>
<div class="lg" style="left:115.9px;top:597.13px">Social</div>
<div class="lg" style="left:115.9px;top:618.13px">support</div>
<div class="lg" style="left:219.25px;top:532.03px">Healthy life</div>
<div class="lg" style="left:219.25px;top:553.03px">expectancy</div>
<div class="lg" style="left:322.5px;top:597.13px">Freedom to make</div>
<div class="lg" style="left:322.5px;top:618.13px">life choices</div>
<div class="lg" style="left:425.75px;top:552.53px">Generosity</div>
<div class="lg" style="left:529.5px;top:597.13px">Perception of</div>
<div class="lg" style="left:529.5px;top:618.13px">corruption</div>
<div class="lg" style="left:632.75px;top:552.53px">Everything else</div>
<div class="hp">HAPPIEST</div>
<div class="sg" style="left:189.5px;top:686.0px;width:86.0px;height:21.5px;background:#f51d63"></div>
<div class="sg" style="left:275.5px;top:686.0px;width:84.0px;height:21.5px;background:#fb5523"></div>
<div class="sg" style="left:359.5px;top:686.0px;width:58.5px;height:21.5px;background:#f4ae22"></div>
<div class="sg" style="left:418px;top:686.0px;width:41.25px;height:21.5px;background:#22c98f"></div>
<div class="sg" style="left:459.25px;top:686.0px;width:18.75px;height:21.5px;background:#00b5e5"></div>
<div class="sg" style="left:478px;top:686.0px;width:26px;height:21.5px;background:#5e40aa"></div>
<div class="sg" style="left:504px;top:686.0px;width:156px;height:21.5px;background:#2a00d3"></div>
<div class="sp" style="left:275.0px;top:686.0px;height:21.5px"></div>
<div class="sp" style="left:359.0px;top:686.0px;height:21.5px"></div>
<div class="sp" style="left:417.5px;top:686.0px;height:21.5px"></div>
<div class="sp" style="left:458.75px;top:686.0px;height:21.5px"></div>
<div class="sp" style="left:477.5px;top:686.0px;height:21.5px"></div>
<div class="sp" style="left:503.5px;top:686.0px;height:21.5px"></div>
<div class="sg" style="left:189.5px;top:717.5px;width:80.0px;height:21.5px;background:#f51d63"></div>
<div class="sg" style="left:269.5px;top:717.5px;width:87.5px;height:21.5px;background:#fb5523"></div>
<div class="sg" style="left:357px;top:717.5px;width:59px;height:21.5px;background:#f4ae22"></div>
<div class="sg" style="left:416px;top:717.5px;width:38.75px;height:21.5px;background:#22c98f"></div>
<div class="sg" style="left:454.75px;top:717.5px;width:27.25px;height:21.5px;background:#00b5e5"></div>
<div class="sg" style="left:482px;top:717.5px;width:8.75px;height:21.5px;background:#5e40aa"></div>
<div class="sg" style="left:490.75px;top:717.5px;width:167.5px;height:21.5px;background:#2a00d3"></div>
<div class="sp" style="left:269.0px;top:717.5px;height:21.5px"></div>
<div class="sp" style="left:356.5px;top:717.5px;height:21.5px"></div>
<div class="sp" style="left:415.5px;top:717.5px;height:21.5px"></div>
<div class="sp" style="left:454.25px;top:717.5px;height:21.5px"></div>
<div class="sp" style="left:481.5px;top:717.5px;height:21.5px"></div>
<div class="sp" style="left:490.25px;top:717.5px;height:21.5px"></div>
<div class="sg" style="left:189.5px;top:748.75px;width:81.5px;height:21.5px;background:#f51d63"></div>
<div class="sg" style="left:271px;top:748.75px;width:84.60000000000002px;height:21.5px;background:#fb5523"></div>
<div class="sg" style="left:355.6px;top:748.75px;width:54.89999999999998px;height:21.5px;background:#f4ae22"></div>
<div class="sg" style="left:410.5px;top:748.75px;width:40.0px;height:21.5px;background:#22c98f"></div>
<div class="sg" style="left:450.5px;top:748.75px;width:21.0px;height:21.5px;background:#00b5e5"></div>
<div class="sg" style="left:471.5px;top:748.75px;width:30.0px;height:21.5px;background:#5e40aa"></div>
<div class="sg" style="left:501.5px;top:748.75px;width:154.75px;height:21.5px;background:#2a00d3"></div>
<div class="sp" style="left:270.5px;top:748.75px;height:21.5px"></div>
<div class="sp" style="left:355.1px;top:748.75px;height:21.5px"></div>
<div class="sp" style="left:410.0px;top:748.75px;height:21.5px"></div>
<div class="sp" style="left:450.0px;top:748.75px;height:21.5px"></div>
<div class="sp" style="left:471.0px;top:748.75px;height:21.5px"></div>
<div class="sp" style="left:501.0px;top:748.75px;height:21.5px"></div>
<div class="sg" style="left:189.5px;top:780.0px;width:90.0px;height:21.5px;background:#f51d63"></div>
<div class="sg" style="left:279.5px;top:780.0px;width:82.75px;height:21.5px;background:#fb5523"></div>
<div class="sg" style="left:362.25px;top:780.0px;width:55.25px;height:21.5px;background:#f4ae22"></div>
<div class="sg" style="left:417.5px;top:780.0px;width:41.25px;height:21.5px;background:#22c98f"></div>
<div class="sg" style="left:458.75px;top:780.0px;width:21.5px;height:21.5px;background:#00b5e5"></div>
<div class="sg" style="left:480.25px;top:780.0px;width:23.0px;height:21.5px;background:#5e40aa"></div>
<div class="sg" style="left:503.25px;top:780.0px;width:152.5px;height:21.5px;background:#2a00d3"></div>
<div class="sp" style="left:279.0px;top:780.0px;height:21.5px"></div>
<div class="sp" style="left:361.75px;top:780.0px;height:21.5px"></div>
<div class="sp" style="left:417.0px;top:780.0px;height:21.5px"></div>
<div class="sp" style="left:458.25px;top:780.0px;height:21.5px"></div>
<div class="sp" style="left:479.75px;top:780.0px;height:21.5px"></div>
<div class="sp" style="left:502.75px;top:780.0px;height:21.5px"></div>
<div class="sg" style="left:189.5px;top:811.5px;width:82.0px;height:21.5px;background:#f51d63"></div>
<div class="sg" style="left:271.5px;top:811.5px;width:82.0px;height:21.5px;background:#fb5523"></div>
<div class="sg" style="left:353.5px;top:811.5px;width:56.5px;height:21.5px;background:#f4ae22"></div>
<div class="sg" style="left:410px;top:811.5px;width:39.25px;height:21.5px;background:#22c98f"></div>
<div class="sg" style="left:449.25px;top:811.5px;width:28.5px;height:21.5px;background:#00b5e5"></div>
<div class="sg" style="left:477.75px;top:811.5px;width:20.25px;height:21.5px;background:#5e40aa"></div>
<div class="sg" style="left:498px;top:811.5px;width:152px;height:21.5px;background:#2a00d3"></div>
<div class="sp" style="left:271.0px;top:811.5px;height:21.5px"></div>
<div class="sp" style="left:353.0px;top:811.5px;height:21.5px"></div>
<div class="sp" style="left:409.5px;top:811.5px;height:21.5px"></div>
<div class="sp" style="left:448.75px;top:811.5px;height:21.5px"></div>
<div class="sp" style="left:477.25px;top:811.5px;height:21.5px"></div>
<div class="sp" style="left:497.5px;top:811.5px;height:21.5px"></div>
<div class="sg" style="left:189.5px;top:842.75px;width:79.75px;height:21.5px;background:#f51d63"></div>
<div class="sg" style="left:269.25px;top:842.75px;width:82.0px;height:21.5px;background:#fb5523"></div>
<div class="sg" style="left:351.25px;top:842.75px;width:55.25px;height:21.5px;background:#f4ae22"></div>
<div class="sg" style="left:406.5px;top:842.75px;width:39.75px;height:21.5px;background:#22c98f"></div>
<div class="sg" style="left:446.25px;top:842.75px;width:14.75px;height:21.5px;background:#00b5e5"></div>
<div class="sg" style="left:461px;top:842.75px;width:25.5px;height:21.5px;background:#5e40aa"></div>
<div class="sg" style="left:486.5px;top:842.75px;width:162.0px;height:21.5px;background:#2a00d3"></div>
<div class="sp" style="left:268.75px;top:842.75px;height:21.5px"></div>
<div class="sp" style="left:350.75px;top:842.75px;height:21.5px"></div>
<div class="sp" style="left:406.0px;top:842.75px;height:21.5px"></div>
<div class="sp" style="left:445.75px;top:842.75px;height:21.5px"></div>
<div class="sp" style="left:460.5px;top:842.75px;height:21.5px"></div>
<div class="sp" style="left:486.0px;top:842.75px;height:21.5px"></div>
<div class="sg" style="left:189.5px;top:874.25px;width:82.0px;height:21.5px;background:#f51d63"></div>
<div class="sg" style="left:271.5px;top:874.25px;width:79.75px;height:21.5px;background:#fb5523"></div>
<div class="sg" style="left:351.25px;top:874.25px;width:55.25px;height:21.5px;background:#f4ae22"></div>
<div class="sg" style="left:406.5px;top:874.25px;width:38.5px;height:21.5px;background:#22c98f"></div>
<div class="sg" style="left:445px;top:874.25px;width:29.5px;height:21.5px;background:#00b5e5"></div>
<div class="sg" style="left:474.5px;top:874.25px;width:19.75px;height:21.5px;background:#5e40aa"></div>
<div class="sg" style="left:494.25px;top:874.25px;width:152.75px;height:21.5px;background:#2a00d3"></div>
<div class="sp" style="left:271.0px;top:874.25px;height:21.5px"></div>
<div class="sp" style="left:350.75px;top:874.25px;height:21.5px"></div>
<div class="sp" style="left:406.0px;top:874.25px;height:21.5px"></div>
<div class="sp" style="left:444.5px;top:874.25px;height:21.5px"></div>
<div class="sp" style="left:474.0px;top:874.25px;height:21.5px"></div>
<div class="sp" style="left:493.75px;top:874.25px;height:21.5px"></div>
<div class="sg" style="left:189.5px;top:905.5px;width:82.10000000000002px;height:21.5px;background:#f51d63"></div>
<div class="sg" style="left:271.6px;top:905.5px;width:80.29999999999995px;height:21.5px;background:#fb5523"></div>
<div class="sg" style="left:351.9px;top:905.5px;width:56.5px;height:21.5px;background:#f4ae22"></div>
<div class="sg" style="left:408.4px;top:905.5px;width:40.85000000000002px;height:21.5px;background:#22c98f"></div>
<div class="sg" style="left:449.25px;top:905.5px;width:22.5px;height:21.5px;background:#00b5e5"></div>
<div class="sg" style="left:471.75px;top:905.5px;width:27.25px;height:21.5px;background:#5e40aa"></div>
<div class="sg" style="left:499px;top:905.5px;width:147px;height:21.5px;background:#2a00d3"></div>
<div class="sp" style="left:271.1px;top:905.5px;height:21.5px"></div>
<div class="sp" style="left:351.4px;top:905.5px;height:21.5px"></div>
<div class="sp" style="left:407.9px;top:905.5px;height:21.5px"></div>
<div class="sp" style="left:448.75px;top:905.5px;height:21.5px"></div>
<div class="sp" style="left:471.25px;top:905.5px;height:21.5px"></div>
<div class="sp" style="left:498.5px;top:905.5px;height:21.5px"></div>
<div class="sg" style="left:189.5px;top:937.0px;width:77.25px;height:21.5px;background:#f51d63"></div>
<div class="sg" style="left:266.75px;top:937.0px;width:81.85000000000002px;height:21.5px;background:#fb5523"></div>
<div class="sg" style="left:348.6px;top:937.0px;width:56.39999999999998px;height:21.5px;background:#f4ae22"></div>
<div class="sg" style="left:405px;top:937.0px;width:39.75px;height:21.5px;background:#22c98f"></div>
<div class="sg" style="left:444.75px;top:937.0px;width:29.75px;height:21.5px;background:#00b5e5"></div>
<div class="sg" style="left:474.5px;top:937.0px;width:26.25px;height:21.5px;background:#5e40aa"></div>
<div class="sg" style="left:500.75px;top:937.0px;width:140.25px;height:21.5px;background:#2a00d3"></div>
<div class="sp" style="left:266.25px;top:937.0px;height:21.5px"></div>
<div class="sp" style="left:348.1px;top:937.0px;height:21.5px"></div>
<div class="sp" style="left:404.5px;top:937.0px;height:21.5px"></div>
<div class="sp" style="left:444.25px;top:937.0px;height:21.5px"></div>
<div class="sp" style="left:474.0px;top:937.0px;height:21.5px"></div>
<div class="sp" style="left:500.25px;top:937.0px;height:21.5px"></div>
<div class="sg" style="left:189.5px;top:968.0px;width:82.5px;height:21.5px;background:#f51d63"></div>
<div class="sg" style="left:272px;top:968.0px;width:81px;height:21.5px;background:#fb5523"></div>
<div class="sg" style="left:353px;top:968.0px;width:58.25px;height:21.5px;background:#f4ae22"></div>
<div class="sg" style="left:411.25px;top:968.0px;width:40.25px;height:21.5px;background:#22c98f"></div>
<div class="sg" style="left:451.5px;top:968.0px;width:26.75px;height:21.5px;background:#00b5e5"></div>
<div class="sg" style="left:478.25px;top:968.0px;width:22.0px;height:21.5px;background:#5e40aa"></div>
<div class="sg" style="left:500.25px;top:968.0px;width:140.75px;height:21.5px;background:#2a00d3"></div>
<div class="sp" style="left:271.5px;top:968.0px;height:21.5px"></div>
<div class="sp" style="left:352.5px;top:968.0px;height:21.5px"></div>
<div class="sp" style="left:410.75px;top:968.0px;height:21.5px"></div>
<div class="sp" style="left:451.0px;top:968.0px;height:21.5px"></div>
<div class="sp" style="left:477.75px;top:968.0px;height:21.5px"></div>
<div class="sp" style="left:499.75px;top:968.0px;height:21.5px"></div>
<div class="cn b" style="top:700.15px">Switzerland</div>
<div class="vl b" style="left:665.8px;top:700.50px">7.59</div>
<div class="cn" style="top:732.15px">Iceland</div>
<div class="vl" style="left:663.1px;top:731.20px">7.56</div>
<div class="cn" style="top:763.45px">Denmark</div>
<div class="vl" style="left:663.1px;top:764.00px">7.53</div>
<div class="cn" style="top:795.05px">Norway</div>
<div class="vl" style="left:659.9px;top:794.80px">7.52</div>
<div class="cn" style="top:826.25px">Canada</div>
<div class="vl" style="left:654px;top:825.50px">7.43</div>
<div class="cn" style="top:857.45px">Finland</div>
<div class="vl" style="left:654px;top:857.50px">7.41</div>
<div class="cn" style="top:888.55px">Netherlands</div>
<div class="vl" style="left:652.8px;top:890.00px">7.38</div>
<div class="cn" style="top:919.95px">Sweden</div>
<div class="vl" style="left:652.8px;top:920.10px">7.36</div>
<div class="cn" style="top:951.85px">New Zealand</div>
<div class="vl" style="left:647.3px;top:952.30px">7.29</div>
<div class="cn" style="top:982.75px">Australia</div>
<div class="vl" style="left:647.3px;top:982.60px">7.28</div>
</body></html>
